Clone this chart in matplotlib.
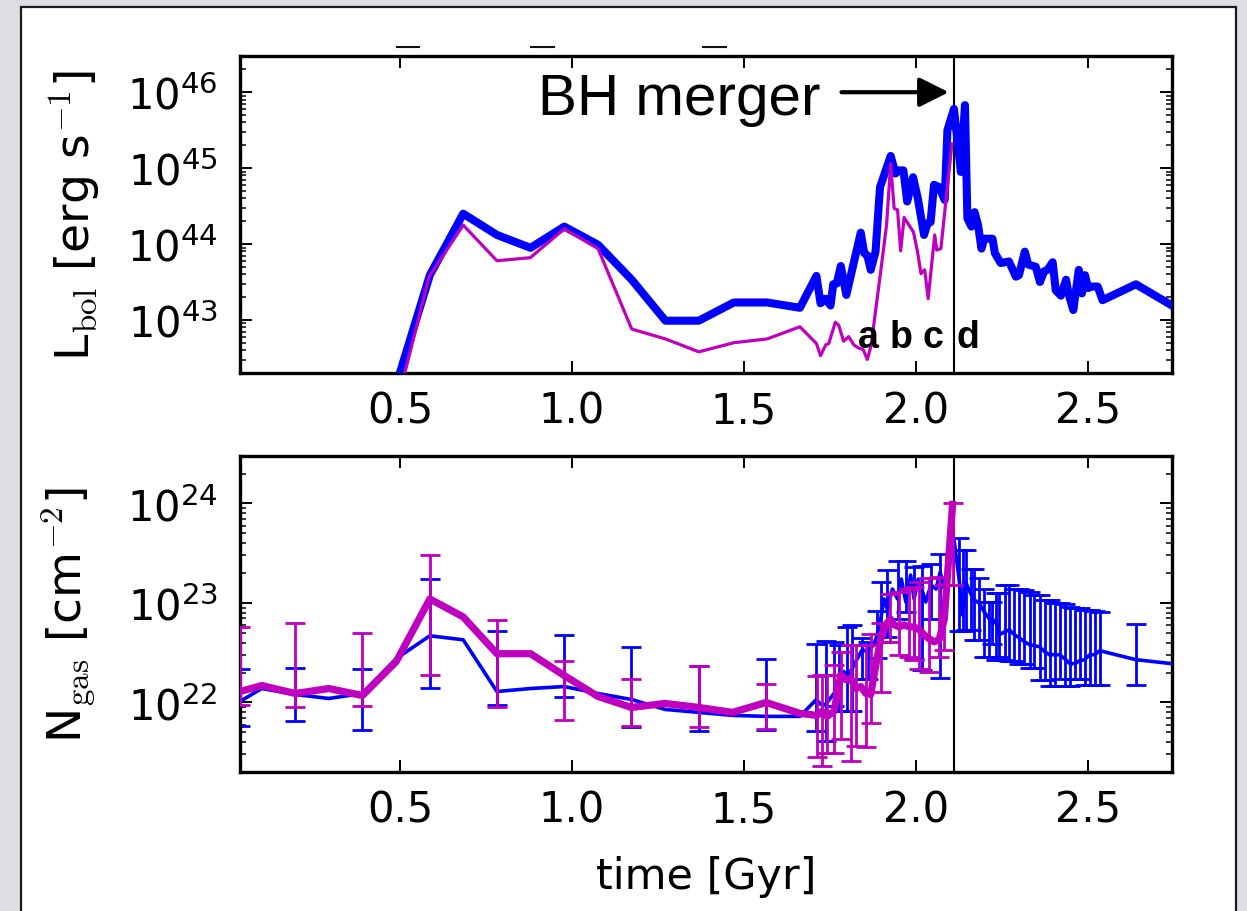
import numpy as np
import matplotlib
matplotlib.use("Agg")
import matplotlib.pyplot as plt
from matplotlib.lines import Line2D
from matplotlib.patches import Rectangle
from matplotlib.ticker import LogLocator, NullLocator

# ---------------- data (log10 values, time in Gyr) ----------------
# bolometric luminosity, full black-hole sample
t_lbol_all = [0.489, 0.587, 0.684, 0.782, 0.880, 0.978, 1.076, 1.174, 1.272, 1.369,
              1.471, 1.568, 1.663, 1.711, 1.723, 1.738, 1.752, 1.760, 1.770, 1.782,
              1.798, 1.840, 1.850, 1.859, 1.869, 1.883, 1.896, 1.927, 1.941, 1.951,
              1.964, 1.975, 1.992, 2.006, 2.024, 2.034, 2.043, 2.053, 2.068, 2.084,
              2.092, 2.111, 2.131, 2.143, 2.150, 2.162, 2.171, 2.181, 2.191, 2.199,
              2.223, 2.230, 2.247, 2.271, 2.291, 2.300, 2.317, 2.327, 2.349, 2.361,
              2.373, 2.383, 2.398, 2.407, 2.422, 2.437, 2.444, 2.458, 2.474, 2.483,
              2.492, 2.501, 2.511, 2.529, 2.543, 2.640, 2.745]
log_lbol_all = [42.14, 43.59, 44.40, 44.12, 43.95, 44.23, 43.99, 43.53, 42.99, 42.99,
                43.23, 43.23, 43.16, 43.58, 43.22, 43.28, 43.19, 43.47, 43.48, 43.71,
                43.33, 44.15, 43.88, 43.85, 43.66, 43.90, 44.75, 45.16, 44.93, 44.97,
                44.97, 44.56, 44.88, 44.60, 44.12, 44.27, 44.29, 44.78, 44.75, 44.58,
                45.50, 45.78, 44.95, 45.83, 44.34, 44.23, 44.42, 44.25, 43.94, 44.07,
                44.07, 43.88, 43.75, 43.77, 43.57, 43.59, 43.90, 43.73, 43.70, 43.50,
                43.64, 43.66, 43.76, 43.39, 43.32, 43.53, 43.35, 43.13, 43.66, 43.35,
                43.59, 43.42, 43.44, 43.44, 43.26, 43.47, 43.19]

# bolometric luminosity, single black hole
t_lbol_one = [0.489, 0.585, 0.684, 0.782, 0.879, 0.978, 1.076, 1.174, 1.272, 1.369,
              1.471, 1.568, 1.663, 1.711, 1.723, 1.738, 1.747, 1.766, 1.776, 1.790,
              1.805, 1.820, 1.834, 1.847, 1.859, 1.870, 1.898, 1.915, 1.927, 1.937,
              1.947, 1.956, 1.966, 1.980, 1.993, 2.005, 2.015, 2.026, 2.036, 2.055,
              2.061, 2.073, 2.105]
log_lbol_one = [41.85, 43.57, 44.25, 43.78, 43.82, 44.20, 43.94, 42.88, 42.75, 42.58,
                42.70, 42.75, 42.91, 42.69, 42.53, 42.67, 42.69, 42.97, 42.93, 42.72,
                42.78, 42.67, 42.63, 42.61, 42.48, 42.66, 43.64, 44.25, 45.06, 44.47,
                44.45, 43.91, 44.35, 44.25, 44.16, 43.90, 43.61, 43.66, 43.28, 44.12,
                43.92, 43.94, 45.32]

# gas column density, full sample
t_ngas_all = [0.035, 0.098, 0.196, 0.293, 0.391, 0.489, 0.587, 0.684, 0.782, 0.880,
              0.978, 1.076, 1.173, 1.271, 1.369, 1.467, 1.565, 1.663,
              1.711, 1.724, 1.738, 1.762, 1.776, 1.791, 1.800, 1.815, 1.830, 1.844,
              1.860, 1.878, 1.888, 1.898, 1.908, 1.917, 1.932, 1.947, 1.958, 1.971,
              1.985, 1.995, 2.007, 2.017, 2.029, 2.044, 2.059, 2.071, 2.083, 2.098,
              2.111,
              2.126, 2.136, 2.145, 2.160, 2.170, 2.184, 2.199, 2.214, 2.223, 2.233,
              2.243, 2.258, 2.272, 2.287, 2.301, 2.316, 2.331, 2.345, 2.360, 2.375,
              2.389, 2.404, 2.418, 2.433, 2.448, 2.462, 2.477, 2.491, 2.506, 2.520,
              2.535, 2.640, 2.745]
log_ngas_all = [22.01, 22.14, 22.08, 22.04, 22.09, 22.44, 22.67, 22.63, 22.11, 22.14,
                22.16, 22.09, 22.03, 21.93, 21.90, 21.87, 21.86, 21.86,
                22.03, 21.98, 21.98, 22.09, 22.18, 22.31, 22.26, 22.34, 22.44, 22.53,
                22.51, 22.58, 22.68, 22.84, 23.04, 22.94, 23.14, 23.04, 23.24, 23.01,
                23.28, 23.04, 23.24, 23.14, 23.01, 23.18, 23.14, 23.31, 23.14, 23.40,
                23.64,
                23.24, 22.88, 23.21, 23.09, 23.03, 23.00, 22.91, 22.84, 22.79, 22.83,
                22.68, 22.71, 22.73, 22.68, 22.65, 22.61, 22.58, 22.57, 22.56, 22.51,
                22.48, 22.48, 22.48, 22.44, 22.39, 22.39, 22.42, 22.43, 22.48, 22.48,
                22.52, 22.43, 22.39]

# scatter range of the full-sample column density
t_ngas_all_err = [0.035, 0.196, 0.391, 0.587, 0.782, 0.978, 1.173, 1.369, 1.565,
                  1.711, 1.738, 1.762, 1.776, 1.800, 1.815, 1.844, 1.860, 1.888,
                  1.898, 1.917, 1.947, 1.971, 1.995, 2.017, 2.044, 2.071,
                  2.126, 2.136, 2.145, 2.160, 2.170, 2.184, 2.199, 2.214, 2.223,
                  2.233, 2.243, 2.258, 2.272, 2.287, 2.301, 2.316, 2.331, 2.345,
                  2.360, 2.375, 2.389, 2.404, 2.418, 2.433, 2.448, 2.462, 2.477,
                  2.491, 2.506, 2.520, 2.535, 2.640]
log_ngas_all_lo = [21.76, 21.81, 21.72, 22.15, 21.97, 22.05, 21.75, 21.71, 21.72,
                   21.71, 21.61, 21.96, 21.91, 21.91, 21.91, 22.24, 22.24, 22.45,
                   22.61, 22.66, 22.84, 22.91, 22.44, 22.33, 22.84, 22.25,
                   22.72, 22.72, 22.73, 22.73, 22.63, 22.63, 22.46, 22.46, 22.59,
                   22.43, 22.46, 22.43, 22.42, 22.42, 22.39, 22.39, 22.35, 22.35,
                   22.23, 22.23, 22.17, 22.17, 22.24, 22.17, 22.17, 22.24, 22.24,
                   22.18, 22.18, 22.18, 22.18, 22.18]
log_ngas_all_hi = [22.34, 22.35, 22.34, 23.24, 22.72, 22.68, 22.56, 22.37, 22.44,
                   22.59, 22.62, 22.61, 22.58, 22.76, 22.78, 22.65, 22.61, 22.92,
                   23.21, 23.33, 23.42, 23.42, 23.36, 23.37, 23.39, 23.49,
                   23.65, 23.53, 23.53, 23.34, 23.34, 23.25, 23.14, 23.01, 23.01,
                   23.10, 23.10, 23.18, 23.18, 23.14, 23.14, 23.13, 23.11, 23.08,
                   23.08, 23.03, 23.03, 23.00, 23.00, 22.99, 22.96, 22.95, 22.95,
                   22.93, 22.93, 22.92, 22.91, 22.79]

# gas column density, single black hole
t_ngas_one = [0.035, 0.098, 0.196, 0.293, 0.391, 0.489, 0.587, 0.684, 0.782, 0.880,
              0.978, 1.076, 1.173, 1.271, 1.369, 1.467, 1.565, 1.663,
              1.713, 1.727, 1.742, 1.762, 1.782, 1.796, 1.811, 1.826, 1.840, 1.855,
              1.869, 1.884, 1.898, 1.913, 1.926, 1.937, 1.952, 1.966, 1.981, 1.995,
              2.010, 2.024, 2.039, 2.053, 2.068, 2.083, 2.107]
log_ngas_one = [22.11, 22.17, 22.09, 22.14, 22.07, 22.41, 23.04, 22.86, 22.49, 22.49,
                22.27, 22.06, 21.95, 21.99, 21.95, 21.90, 22.00, 21.89,
                21.87, 21.91, 21.86, 21.91, 22.28, 22.23, 22.24, 22.14, 22.16, 22.09,
                22.08, 22.38, 22.64, 22.78, 22.84, 22.78, 22.76, 22.78, 22.76, 22.76,
                22.73, 22.68, 22.64, 22.61, 22.63, 22.84, 23.99]

t_ngas_one_err = [0.035, 0.196, 0.391, 0.587, 0.782, 0.978, 1.173, 1.369, 1.565,
                  1.713, 1.727, 1.742, 1.762, 1.782, 1.811, 1.826, 1.855, 1.869,
                  1.898, 1.926, 1.952, 1.981, 1.995, 2.010, 2.039, 2.068, 2.083,
                  2.107]
log_ngas_one_lo = [21.97, 21.95, 21.96, 22.28, 21.95, 21.82, 21.76, 21.75, 21.73,
                   21.45, 21.36, 21.49, 21.49, 21.63, 21.41, 21.56, 21.55, 21.79,
                   22.11, 22.61, 22.48, 22.46, 22.43, 22.34, 22.31, 22.46, 22.53,
                   23.18]
log_ngas_one_hi = [22.76, 22.80, 22.70, 23.48, 22.83, 22.42, 22.24, 22.37, 22.19,
                   22.27, 22.28, 22.28, 22.38, 22.51, 22.58, 22.58, 22.58, 22.69,
                   22.80, 23.09, 23.11, 23.14, 23.16, 23.21, 23.25, 23.26, 23.18,
                   24.00]

t_merger = 2.112
phase_labels = ["a", "b", "c", "d"]
phase_times = [1.863, 1.957, 2.050, 2.152]

x_ticks = [0.5, 1.0, 1.5, 2.0, 2.5]
x_tick_labels = ["0.5", "1.0", "1.5", "2.0", "2.5"]

# ---------------- styling ----------------
BLUE = "#0000ff"
MAG = "#bf00bf"
W, H = 1247, 912

plt.rcParams["font.family"] = ["DejaVu Sans"]
plt.rcParams["mathtext.fontset"] = "dejavusans"

fig = plt.figure(figsize=(W / 100, H / 100), dpi=100)
fig.patch.set_facecolor("#dddee1")

# white panel with a dark border
fig.add_artist(Rectangle((21 / W, -0.05), (1236 - 21) / W, 1 - 8 / H + 0.05,
                         transform=fig.transFigure, facecolor="white",
                         edgecolor="#1a1a1a", lw=1.6, zorder=-10))
for x0, x1 in [(397, 419), (531, 554), (703, 726)]:
    fig.add_artist(Line2D([x0 / W, x1 / W], [1 - 47.5 / H] * 2,
                          transform=fig.transFigure, color="#111111", lw=1.5))

ax1 = fig.add_axes([240 / W, 1 - 374 / H, 932 / W, 317 / H])
ax2 = fig.add_axes([240 / W, 1 - 773 / H, 932 / W, 316 / H])

xlim = (0.035, 2.745)


def style_axis(ax):
    ax.set_yscale("log")
    ax.yaxis.set_major_locator(LogLocator(base=10, numticks=30))
    ax.yaxis.set_minor_locator(LogLocator(base=10, subs=np.arange(2, 10),
                                          numticks=300))
    ax.set_xlim(*xlim)
    ax.set_xticks(x_ticks)
    ax.set_xticklabels(x_tick_labels)
    ax.xaxis.set_minor_locator(NullLocator())
    ax.tick_params(which="both", direction="in", top=True, right=True)
    ax.tick_params(which="major", length=8.5, width=1.4, labelsize=30)
    ax.tick_params(which="minor", length=4, width=1.1)
    ax.tick_params(axis="x", pad=12)
    ax.tick_params(axis="y", pad=16)
    for s in ax.spines.values():
        s.set_linewidth(2.4)
    ax.axvline(t_merger, color="k", lw=1.5, zorder=1)


def p10(v):
    return 10.0 ** np.asarray(v)


# ---- top panel: bolometric luminosity ----
ax1.plot(t_lbol_all, p10(log_lbol_all), color=BLUE, lw=5.8,
         solid_joinstyle="round", zorder=3)
ax1.plot(t_lbol_one, p10(log_lbol_one), color=MAG, lw=2.3, zorder=4)
style_axis(ax1)
ax1.set_ylim(2e42, 3e46)
ax1.set_ylabel(r"L$_{\rm bol}$ [erg s$^{-1}$]", fontsize=34, math_fontfamily="cm")
ax1.yaxis.set_label_coords(-0.147, 0.5)

ax1.text(1.723, 10 ** 45.716, "BH merger", ha="right", va="baseline",
         fontsize=42, family="Liberation Sans")
ax1.annotate("", xy=(2.096, 1e46), xytext=(1.784, 1e46),
             arrowprops=dict(arrowstyle="-|>", color="k", lw=3,
                             mutation_scale=45, shrinkA=0, shrinkB=0))
for lab, tt in zip(phase_labels, phase_times):
    ax1.text(tt, 10 ** 42.65, lab, ha="center", va="baseline", fontsize=27,
             fontweight="bold", family="Liberation Sans", zorder=6)

# ---- bottom panel: gas column density ----
err_kw = dict(fmt="none", elinewidth=2.0, capsize=7, capthick=2.0)

lo = p10(log_ngas_all_lo)
hi = p10(log_ngas_all_hi)
ax2.errorbar(t_ngas_all_err, lo, yerr=[np.zeros_like(lo), hi - lo],
             ecolor=BLUE, zorder=2, **err_kw)
ax2.plot(t_ngas_all, p10(log_ngas_all), color=BLUE, lw=2.6,
         solid_joinstyle="round", zorder=3)

lo = p10(log_ngas_one_lo)
hi = p10(log_ngas_one_hi)
ax2.errorbar(t_ngas_one_err, lo, yerr=[np.zeros_like(lo), hi - lo],
             ecolor=MAG, zorder=4, **err_kw)
ax2.plot(t_ngas_one, p10(log_ngas_one), color=MAG, lw=5.2,
         solid_joinstyle="round", zorder=5)

style_axis(ax2)
ax2.set_ylim(2e21, 3e24)
ax2.set_ylabel(r"N$_{\rm gas}$ [cm$^{-2}$]", fontsize=34, math_fontfamily="cm")
ax2.yaxis.set_label_coords(-0.153, 0.5)
ax2.set_xlabel("time [Gyr]", fontsize=31)
ax2.xaxis.set_label_coords(0.5, -0.262)

fig.savefig("out.png", dpi=100, facecolor=fig.get_facecolor())
